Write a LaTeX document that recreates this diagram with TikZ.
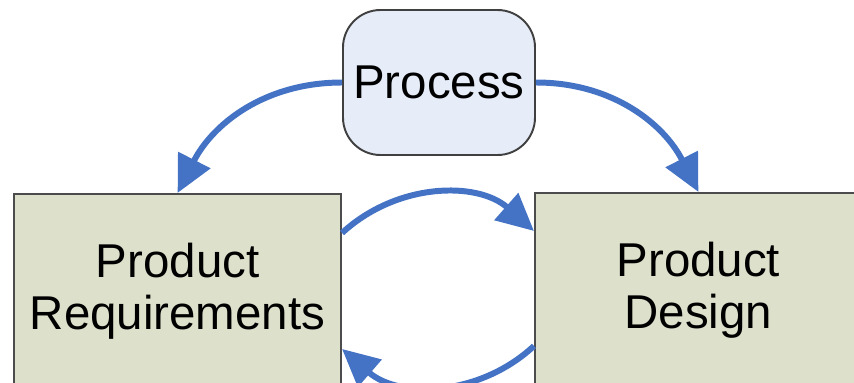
\documentclass[tikz,border=0pt]{standalone}
\usepackage{fontspec}
\setmainfont{Liberation Sans}
\usepackage{tikz}
\usetikzlibrary{positioning, arrows.meta}

\definecolor{flowblue}{RGB}{68,114,196}
\definecolor{procfill}{RGB}{230,236,248}
\definecolor{boxfill}{RGB}{221,224,203}

\begin{document}
\begin{tikzpicture}[
		every node/.style={font=\fontsize{27}{29.6}\selectfont, text=black},
		proc/.style={draw=black!75, line width=1.1pt, fill=procfill, rounded corners=0.75cm,
			minimum width=3.84cm, minimum height=2.9cm, inner sep=0pt},
		block/.style={draw=black!70, line width=1.1pt, fill=boxfill, align=center,
			minimum width=6.54cm, minimum height=3.9cm, inner sep=0pt},
		flow/.style={draw=flowblue, line width=3.4pt, -{Triangle[length=0.74cm, width=0.7cm]}}
	]
	\clip (0,0) rectangle (17.08,7.64);
	\fill[white] (0,0) rectangle (17.08,7.64);
	
	\node[proc] (proc) at (8.78,5.99) {Process};
	\node[block, below left=0.74cm and 0cm of proc.south west] (req) {Product\\Requirements};
	\node[block, below right=0.72cm and -0.04cm of proc.south east] (des) {Product\\Design};
	
	% process feeds both sides
	\draw[flow] (proc.west) to[out=180, in=63] (req.north);
	\draw[flow] (proc.east) to[out=0, in=117] (des.north);
	
	% back and forth between requirements and design
	\draw[flow] ([yshift=-0.8cm]req.north east) to[bend left=42] ([yshift=-0.78cm]des.north west);
	\draw[flow] ([yshift=-3.08cm]des.north west) to[bend left=42] ([yshift=-3.12cm]req.north east);
\end{tikzpicture}
\end{document}
